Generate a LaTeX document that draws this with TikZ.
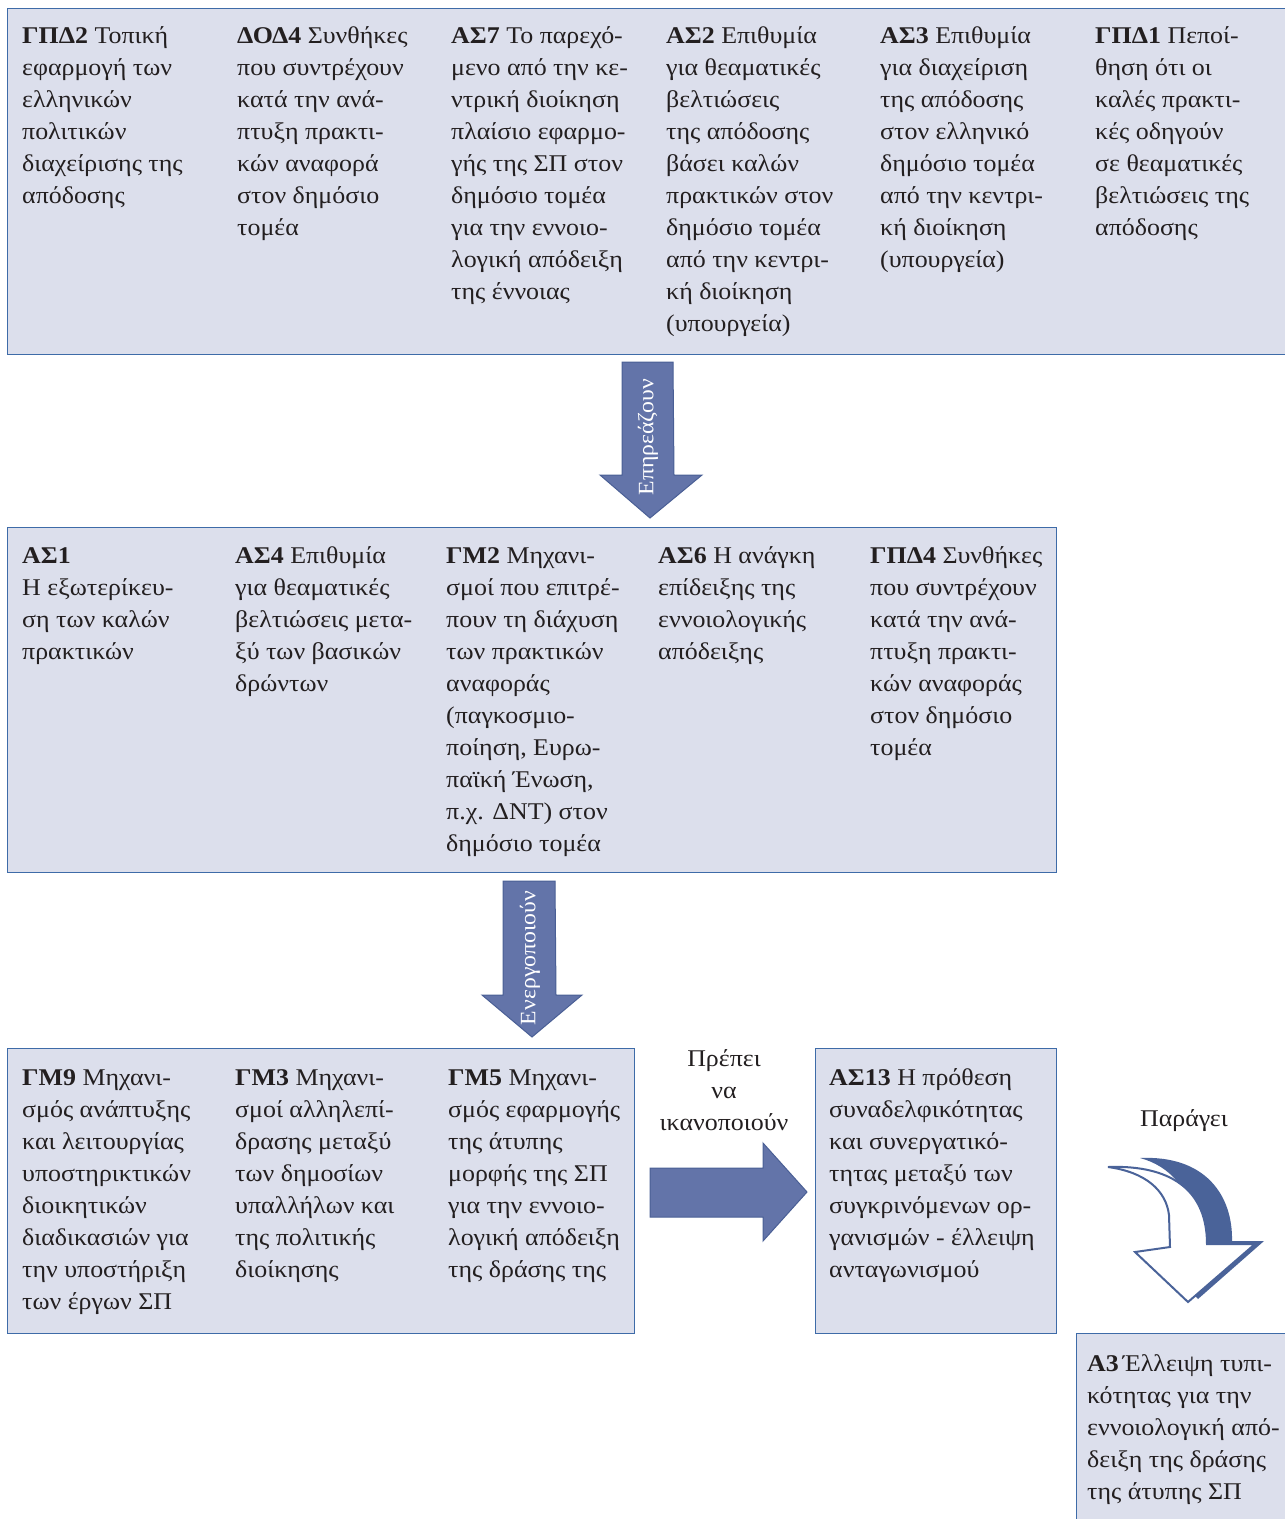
\documentclass[tikz,border=0pt]{standalone}
\usepackage{fontspec}
\setmainfont{Liberation Serif}[FakeStretch=1.08]
\usetikzlibrary{positioning}
\definecolor{boxfill}{HTML}{DCDFEC}
\definecolor{boxline}{HTML}{3E6BA8}
\definecolor{arrfill}{HTML}{6374A9}
\definecolor{arrline}{HTML}{4A5F95}
\definecolor{curvdark}{HTML}{4A6399}
\definecolor{txtc}{HTML}{231F20}
\newcommand{\coltext}[1]{\begin{tabular}[t]{@{}l@{}}#1\end{tabular}}
\newcommand{\midtext}[1]{\begin{tabular}[t]{@{}c@{}}#1\end{tabular}}
\begin{document}
\begin{tikzpicture}[x=1pt,y=-1pt,
  panel/.style={draw=boxline, line width=1pt, fill=boxfill},
  coltxt/.style={anchor=base west, inner sep=0pt, text=txtc, font=\fontsize{24}{32}\selectfont},
  lbl/.style={anchor=base, inner sep=0pt, text=txtc, font=\fontsize{24}{32}\selectfont},
  blockarrow/.style={fill=arrfill, draw=arrline, line width=1pt},
  arrtxt/.style={inner sep=0pt, text=white, rotate=90, font=\fontsize{22}{24}\selectfont}]
\useasboundingbox (0,0) rectangle (1285,1519);
\clip (0,0) rectangle (1285,1519);

% panels
\path[panel] (7,8) rectangle (1295,354);
\path[panel] (7,527) rectangle (1056,872);
\path[panel] (7,1048) rectangle (634,1333);
\path[panel] (815,1048) rectangle (1056,1333);
\path[panel] (1076,1333) rectangle (1295,1530);

% upper panel
\node[coltxt] (gpd2) at (22,43) {\coltext{\textbf{ΓΠΔ2} Τοπική\\εφαρμογή των\\ελληνικών\\πολιτικών\\διαχείρισης της\\απόδοσης}};
\node[coltxt] (dod4) at (237,43) {\coltext{\textbf{ΔΟΔ4} Συνθήκες\\που συντρέχουν\\κατά την ανά-\\πτυξη πρακτι-\\κών αναφορά\\στον δημόσιο\\τομέα}};
\node[coltxt] (as7) at (451,43) {\coltext{\textbf{ΑΣ7} Το παρεχό-\\μενο από την κε-\\ντρική διοίκηση\\πλαίσιο εφαρμο-\\γής της ΣΠ στον\\δημόσιο τομέα\\για την εννοιο-\\λογική απόδειξη\\της έννοιας}};
\node[coltxt] (as2) at (666,43) {\coltext{\textbf{ΑΣ2} Επιθυμία\\για θεαματικές\\βελτιώσεις\\της απόδοσης\\βάσει καλών\\πρακτικών στον\\δημόσιο τομέα\\από την κεντρι-\\κή διοίκηση\\(υπουργεία)}};
\node[coltxt] (as3) at (880,43) {\coltext{\textbf{ΑΣ3} Επιθυμία\\για διαχείριση\\της απόδοσης\\στον ελληνικό\\δημόσιο τομέα\\από την κεντρι-\\κή διοίκηση\\(υπουργεία)}};
\node[coltxt] (gpd1) at (1095,43) {\coltext{\textbf{ΓΠΔ1} Πεποί-\\θηση ότι οι\\καλές πρακτι-\\κές οδηγούν\\σε θεαματικές\\βελτιώσεις της\\απόδοσης}};

% middle panel
\node[coltxt] (as1) at (22,563) {\coltext{\textbf{ΑΣ1}\\Η εξωτερίκευ-\\ση των καλών\\πρακτικών}};
\node[coltxt] (as4) at (235,563) {\coltext{\textbf{ΑΣ4} Επιθυμία\\για θεαματικές\\βελτιώσεις μετα-\\ξύ των βασικών\\δρώντων}};
\node[coltxt] (gm2) at (446,563) {\coltext{\textbf{ΓΜ2} Μηχανι-\\σμοί που επιτρέ-\\πουν τη διάχυση\\των πρακτικών\\αναφοράς\\(παγκοσμιο-\\ποίηση, Ευρω-\\παϊκή Ένωση,\\π.χ. ΔΝΤ) στον\\δημόσιο τομέα}};
\node[coltxt] (as6) at (658,563) {\coltext{\textbf{ΑΣ6} Η ανάγκη\\επίδειξης της\\εννοιολογικής\\απόδειξης}};
\node[coltxt] (gpd4) at (870,563) {\coltext{\textbf{ΓΠΔ4} Συνθήκες\\που συντρέχουν\\κατά την ανά-\\πτυξη πρακτι-\\κών αναφοράς\\στον δημόσιο\\τομέα}};

% lower panels
\node[coltxt] (gm9) at (22,1085) {\coltext{\textbf{ΓΜ9} Μηχανι-\\σμός ανάπτυξης\\και λειτουργίας\\υποστηρικτικών\\διοικητικών\\διαδικασιών για\\την υποστήριξη\\των έργων ΣΠ}};
\node[coltxt] (gm3) at (235,1085) {\coltext{\textbf{ΓΜ3} Μηχανι-\\σμοί αλληλεπί-\\δρασης μεταξύ\\των δημοσίων\\υπαλλήλων και\\της πολιτικής\\διοίκησης}};
\node[coltxt] (gm5) at (448,1085) {\coltext{\textbf{ΓΜ5} Μηχανι-\\σμός εφαρμογής\\της άτυπης\\μορφής της ΣΠ\\για την εννοιο-\\λογική απόδειξη\\της δράσης της}};
\node[coltxt] (as13) at (829,1085) {\coltext{\textbf{ΑΣ13} Η πρόθεση\\συναδελφικότητας\\και συνεργατικό-\\τητας μεταξύ των\\συγκρινόμενων ορ-\\γανισμών - έλλειψη\\ανταγωνισμού}};
\node[coltxt] (a3) at (1087,1371) {\coltext{\textbf{Α3}\,Έλλειψη τυπι-\\κότητας για την\\εννοιολογική από-\\δειξη της δράσης\\της άτυπης ΣΠ}};

% block arrows between panels
\path[blockarrow] (622,362) -- (673,362) -- (674,475) -- (702,475) -- (650,518) -- (600,475) -- (622,475) -- cycle;
\node[arrtxt] (affect) at (648,437) {Επηρεάζουν};
\path[blockarrow] (503,881) -- (555,881) -- (556,995) -- (582,995) -- (532,1037) -- (482,995) -- (503,995) -- cycle;
\node[arrtxt] (activate) at (530,958) {Ενεργοποιούν};
\path[blockarrow] (650,1168) -- (763,1168) -- (763,1143) -- (807,1192) -- (763,1241) -- (763,1217) -- (650,1217) -- cycle;

% labels
\node[lbl] (satisfy) at (724,1066) {\midtext{Πρέπει\\να\\ικανοποιούν}};
\node[lbl] (produce) at (1184,1126) {Παράγει};

% curved down arrow
\path[fill=curvdark] (1140,1158) .. controls (1205,1155) and (1233,1195) .. (1232,1241)
  -- (1264,1241) -- (1198,1299) -- (1170,1270) -- (1195,1230)
  .. controls (1192,1190) and (1170,1166) .. (1140,1158) -- cycle;
\path[fill=white, draw=curvdark, line width=2pt, line join=miter] (1108,1167)
  .. controls (1160,1165) and (1207,1182) .. (1207,1244)
  -- (1255,1244) -- (1188,1302) -- (1135,1252) -- (1170,1247) -- (1169,1215)
  .. controls (1166,1190) and (1145,1172) .. (1108,1167) -- cycle;
\end{tikzpicture}
\end{document}
